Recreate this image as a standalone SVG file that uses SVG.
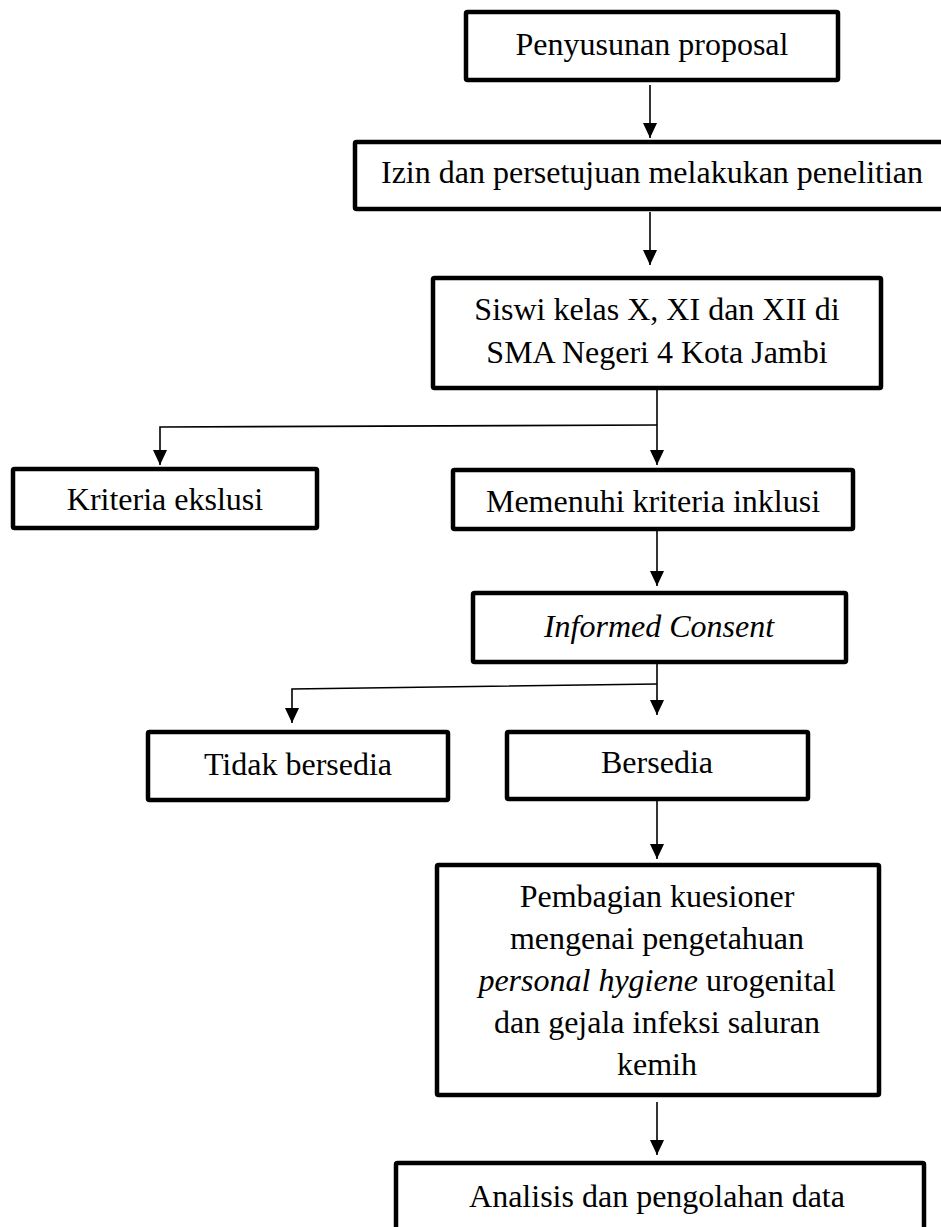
<svg xmlns="http://www.w3.org/2000/svg" width="941" height="1227" viewBox="0 0 941 1227">
<style>
.box{fill:#fff;stroke:#000;stroke-width:4.5;stroke-linejoin:round}
.t{font-family:"Liberation Serif","Times New Roman",serif;font-size:32px;fill:#000;text-anchor:middle}
.i{font-style:italic}
.c{fill:none;stroke:#000;stroke-width:1.6}
.a{marker-end:url(#ah)}
</style>
<defs>
<marker id="ah" viewBox="0 0 15 14" refX="15" refY="7" markerWidth="15" markerHeight="14" markerUnits="userSpaceOnUse" orient="auto">
<path d="M0,0 L15,7 L0,14 Z" fill="#000"/>
</marker>
</defs>
<rect width="941" height="1227" fill="#fff"/>
<g id="connectors">
<path class="c a" d="M650,85 V138"/>
<path class="c a" d="M650,212 V265"/>
<path class="c a" d="M657,390 V465"/>
<path class="c a" d="M657,425 L160,427 V465"/>
<path class="c a" d="M657,531 V586"/>
<path class="c a" d="M657,664 V715"/>
<path class="c a" d="M657,684 L292,689 V723"/>
<path class="c a" d="M657,801 V859"/>
<path class="c a" d="M657,1102 V1155"/>
</g>
<g id="n1"><rect class="box" x="466" y="12" width="372" height="68" rx="1.5"/><text class="t" x="652" y="55">Penyusunan proposal</text></g>
<g id="n2"><rect class="box" x="355" y="142" width="600" height="67" rx="1.5"/><text class="t" x="652" y="183">Izin dan persetujuan melakukan penelitian</text></g>
<g id="n3"><rect class="box" x="433" y="278" width="448" height="110" rx="1.5"/><text class="t" x="657" y="320">Siswi kelas X, XI dan XII di</text><text class="t" x="657" y="363">SMA Negeri 4 Kota Jambi</text></g>
<g id="n4"><rect class="box" x="13" y="469" width="304" height="59" rx="1.5"/><text class="t" x="165" y="510">Kriteria ekslusi</text></g>
<g id="n5"><rect class="box" x="453" y="470" width="400" height="59" rx="1.5"/><text class="t" x="653" y="512">Memenuhi kriteria inklusi</text></g>
<g id="n6"><rect class="box" x="473" y="593" width="373" height="69" rx="1.5"/><text class="t i" x="659" y="637">Informed Consent</text></g>
<g id="n7"><rect class="box" x="148" y="732" width="300" height="68" rx="1.5"/><text class="t" x="298" y="775">Tidak bersedia</text></g>
<g id="n8"><rect class="box" x="507" y="732" width="301" height="67" rx="1.5"/><text class="t" x="657" y="773">Bersedia</text></g>
<g id="n9"><rect class="box" x="437" y="865" width="442" height="230" rx="1.5"/>
<text class="t" x="657" y="907">Pembagian kuesioner</text>
<text class="t" x="657" y="949">mengenai pengetahuan</text>
<text class="t" x="657" y="991"><tspan class="i">personal hygiene</tspan> urogenital</text>
<text class="t" x="657" y="1033">dan gejala infeksi saluran</text>
<text class="t" x="657" y="1075">kemih</text></g>
<g id="n10"><rect class="box" x="396" y="1163" width="528" height="80" rx="1.5"/><text class="t" x="657" y="1207">Analisis dan pengolahan data</text></g>
</svg>
